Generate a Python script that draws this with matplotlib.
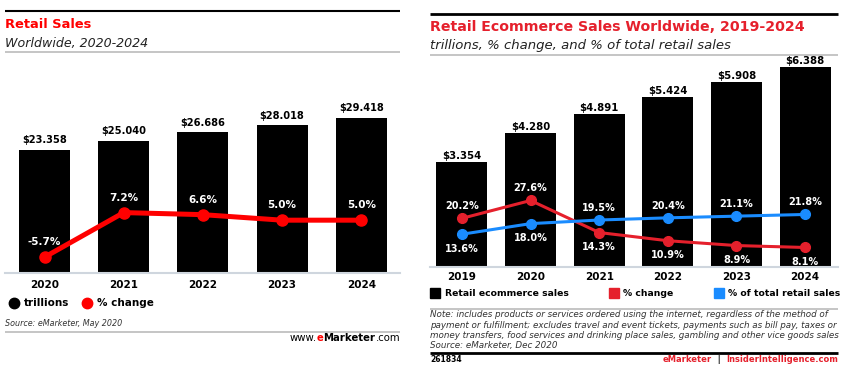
import matplotlib
matplotlib.use("Agg")
import matplotlib.pyplot as plt
from matplotlib.lines import Line2D

# left chart: retail sales
retail_years = ["2020", "2021", "2022", "2023", "2024"]
retail_sales = [23.358, 25.040, 26.686, 28.018, 29.418]
retail_change = [-5.7, 7.2, 6.6, 5.0, 5.0]

# right chart: retail ecommerce sales
ecom_years = ["2019", "2020", "2021", "2022", "2023", "2024"]
ecom_sales = [3.354, 4.280, 4.891, 5.424, 5.908, 6.388]
ecom_change = [20.2, 27.6, 14.3, 10.9, 8.9, 8.1]
ecom_share = [13.6, 18.0, 19.5, 20.4, 21.1, 21.8]
change_above = [True, True, False, False, False, False]
share_above = [False, False, True, True, True, True]

note_lines = [
    "Note: includes products or services ordered using the internet, regardless of the method of",
    "payment or fulfillment; excludes travel and event tickets, payments such as bill pay, taxes or",
    "money transfers, food services and drinking place sales, gambling and other vice goods sales",
    "Source: eMarketer, Dec 2020",
]

W, H = 846, 377
RED_L = "#ff0000"
RED_R = "#e5202c"
BLUE = "#1a8cff"
GRID = "#cfd6de"

plt.rcParams["font.family"] = "DejaVu Sans"


def fx(x):
    return x / W


def fy(y):
    return 1 - y / H


def hline(fig, x0, x1, y, color, lw):
    fig.add_artist(Line2D([fx(x0), fx(x1)], [fy(y), fy(y)], color=color, lw=lw,
                          transform=fig.transFigure, solid_capstyle="butt"))


def text(fig, x, y, s, **kw):
    kw.setdefault("va", "baseline")
    return fig.text(fx(x), fy(y), s, **kw)


def left_of(fig, prev, s, **kw):
    # put a piece of text just left of another one, same baseline
    return fig.add_artist(plt.Annotation(s, (0, 0), xycoords=prev, ha="right",
                                         va="bottom", **kw))


def marker(fig, x, y, m, color, size):
    fig.add_artist(Line2D([fx(x)], [fy(y)], marker=m, color=color, markersize=size,
                          lw=0, transform=fig.transFigure))


def clean(ax):
    for s in ["top", "left", "right"]:
        ax.spines[s].set_visible(False)
    ax.set_yticks([])
    ax.tick_params(length=0)
    ax.patch.set_alpha(0)


fig = plt.figure(figsize=(8.46, 3.77), dpi=100)

# ---------------- left panel ----------------
hline(fig, 5, 400, 10.5, "black", 1.5)
text(fig, 5, 27.7, "Retail Sales", color=RED_L, fontsize=9.4, fontweight="bold")
text(fig, 5, 46.7, "Worldwide, 2020-2024", fontsize=9.1, style="italic", color="#222222")
hline(fig, 5, 400, 52, "#bbbbbb", 1.2)

ax = fig.add_axes([fx(5), fy(273), (400 - 5) / W, (273 - 60) / H])
xs = list(range(len(retail_years)))
ax.bar(xs, retail_sales, width=0.645, color="black")
ax.set_xlim(-0.5, 4.49)
ax.set_ylim(0, 40.3)
clean(ax)
ax.spines["bottom"].set_color(GRID)
ax.spines["bottom"].set_linewidth(1.5)
ax.set_xticks(xs, retail_years, fontsize=7.5, fontweight="bold")
ax.tick_params(axis="x", pad=5)
for x, v in zip(xs, retail_sales):
    ax.annotate(f"${v:.3f}", (x, v), xytext=(0, 4.5), textcoords="offset points",
                ha="center", va="baseline", fontsize=7.1, fontweight="bold")

ax2 = ax.twinx()
ax2.plot(xs, retail_change, color=RED_L, lw=3.6, marker="o", markersize=8)
ax2.set_ylim(-10.3, 51.4)
clean(ax2)
ax2.spines["bottom"].set_visible(False)
for x, v in zip(xs, retail_change):
    ax2.annotate(f"{v:.1f}%", (x, v), xytext=(0, 8.5), textcoords="offset points",
                 ha="center", va="baseline", fontsize=7.5, fontweight="bold", color="white")

marker(fig, 14, 302.7, "o", "black", 7.5)
text(fig, 24, 302.7, "trillions", va="center", fontsize=7.5, fontweight="bold")
marker(fig, 87, 302.7, "o", RED_L, 7.5)
text(fig, 97, 302.7, "% change", va="center", fontsize=7.5, fontweight="bold")
text(fig, 5, 326, "Source: eMarketer, May 2020", fontsize=5.8, style="italic", color="#333333")
hline(fig, 5, 400, 331.7, "#bbbbbb", 1.2)
com = text(fig, 400, 341, ".com", ha="right", fontsize=7.3)
mk = left_of(fig, com, "Marketer", fontsize=7.3, fontweight="bold")
ee = left_of(fig, mk, "e", fontsize=7.3, fontweight="bold", color=RED_L)
left_of(fig, ee, "www.", fontsize=7.3)

# ---------------- right panel ----------------
hline(fig, 430, 838, 14, "black", 2)
text(fig, 430, 30.7, "Retail Ecommerce Sales Worldwide, 2019-2024", color=RED_R,
     fontsize=10.2, fontweight="bold")
text(fig, 430, 49, "trillions, % change, and % of total retail sales", fontsize=9.5,
     style="italic", color="#222222")
hline(fig, 430, 838, 55, "#bbbbbb", 1.2)

bx = fig.add_axes([fx(430), fy(267), (838 - 430) / W, (267 - 60) / H])
xs = list(range(len(ecom_years)))
bx.bar(xs, ecom_sales, width=0.743, color="black")
bx.set_xlim(-0.466, 5.48)
bx.set_ylim(0, 6.62)
clean(bx)
bx.spines["bottom"].set_color(GRID)
bx.spines["bottom"].set_linewidth(1.5)
bx.set_xticks(xs, ecom_years, fontsize=7.5, fontweight="bold")
bx.tick_params(axis="x", pad=3.5)
for x, v in zip(xs, ecom_sales):
    bx.annotate(f"${v:.3f}", (x, v), xytext=(0, 2.2), textcoords="offset points",
                ha="center", va="baseline", fontsize=7.3, fontweight="bold")

bx2 = bx.twinx()
bx2.plot(xs, ecom_change, color=RED_R, lw=2.2, marker="o", markersize=7)
bx2.plot(xs, ecom_share, color=BLUE, lw=2.2, marker="o", markersize=7)
bx2.set_ylim(0, 85.9)
clean(bx2)
bx2.spines["bottom"].set_visible(False)
for vals, above in [(ecom_change, change_above), (ecom_share, share_above)]:
    for x, v, a in zip(xs, vals, above):
        if a:
            bx2.annotate(f"{v:.1f}%", (x, v), xytext=(0, 6.5), textcoords="offset points",
                         ha="center", va="baseline", fontsize=7, fontweight="bold",
                         color="white")
        else:
            bx2.annotate(f"{v:.1f}%", (x, v), xytext=(0, -7), textcoords="offset points",
                         ha="center", va="top", fontsize=7, fontweight="bold",
                         color="white")

marker(fig, 435, 293.3, "s", "black", 7)
text(fig, 445, 293.3, "Retail ecommerce sales", va="center", fontsize=6.7, fontweight="bold")
marker(fig, 614, 293.3, "s", RED_R, 7)
text(fig, 623, 293.3, "% change", va="center", fontsize=6.7, fontweight="bold")
marker(fig, 718.5, 293.3, "s", BLUE, 7)
text(fig, 728, 293.3, "% of total retail sales", va="center", fontsize=6.7, fontweight="bold")

hline(fig, 430, 838, 309, "#bbbbbb", 1.2)
for i, line in enumerate(note_lines):
    text(fig, 430, 317.3 + i * 10.3, line, fontsize=6.35, style="italic", color="#333333")
hline(fig, 430, 838, 353.3, "black", 2)
text(fig, 430, 362.3, "261834", fontsize=5.5, fontweight="bold")
ii = text(fig, 838, 362.3, "InsiderIntelligence.com", ha="right", fontsize=6,
          fontweight="bold", color=RED_R)
sep = left_of(fig, ii, "  |  ", fontsize=6, fontweight="bold")
left_of(fig, sep, "eMarketer", fontsize=6, fontweight="bold", color=RED_R)

fig.savefig("out.png", dpi=100, facecolor="white")
